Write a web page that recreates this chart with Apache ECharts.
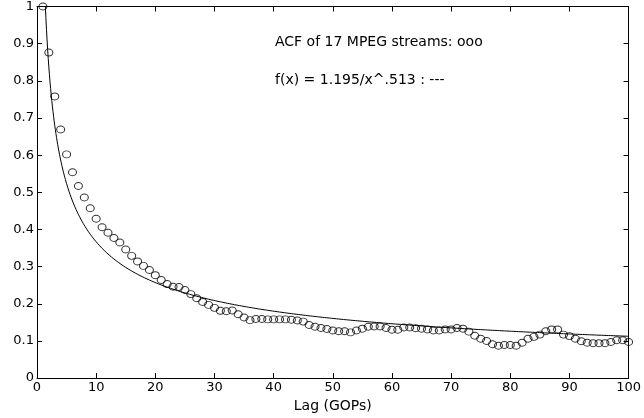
<!DOCTYPE html>
<html>
<head>
<meta charset="utf-8">
<style>
  html, body { margin: 0; padding: 0; background: #fff; }
  #chart { width: 644px; height: 418px; }
</style>
<script src="https://cdn.jsdelivr.net/npm/echarts@6/dist/echarts.min.js"></script>
</head>
<body>
<div id="chart"></div>
<script>
// Lags (in GOPs) at which the autocorrelation was estimated
const lags = [];
for (let k = 1; k <= 100; k++) lags.push(k);

// Autocorrelation of 17 MPEG streams, lag 1..100
const acf = [
  1.000, 0.876, 0.758, 0.669, 0.602, 0.554, 0.517, 0.486, 0.457, 0.429,
  0.406, 0.391, 0.377, 0.365, 0.346, 0.329, 0.314, 0.302, 0.291, 0.277,
  0.264, 0.253, 0.246, 0.245, 0.237, 0.226, 0.215, 0.205, 0.197, 0.189,
  0.181, 0.180, 0.182, 0.172, 0.163, 0.156, 0.159, 0.159, 0.158, 0.158,
  0.158, 0.158, 0.157, 0.155, 0.152, 0.143, 0.138, 0.135, 0.132, 0.128,
  0.126, 0.126, 0.123, 0.128, 0.133, 0.138, 0.139, 0.139, 0.135, 0.130,
  0.130, 0.136, 0.136, 0.134, 0.133, 0.131, 0.128, 0.128, 0.131, 0.131,
  0.135, 0.133, 0.125, 0.114, 0.106, 0.100, 0.091, 0.087, 0.089, 0.089,
  0.087, 0.095, 0.106, 0.111, 0.117, 0.126, 0.131, 0.131, 0.117, 0.113,
  0.106, 0.099, 0.095, 0.094, 0.094, 0.094, 0.097, 0.102, 0.102, 0.097
];

// Power-law fit f(x) = A / x^B
const FIT_A = 1.195;
const FIT_B = 0.513;

// Axis ticks
const xTicks = [0, 10, 20, 30, 40, 50, 60, 70, 80, 90, 100];
const yTicks = [0, 0.1, 0.2, 0.3, 0.4, 0.5, 0.6, 0.7, 0.8, 0.9, 1];

const acfPoints = lags.map((k, i) => [k, acf[i]]);
const fitPoints = [];
for (let x = 1; x <= 100.0001; x += 0.1) {
  fitPoints.push([x, FIT_A / Math.pow(x, FIT_B)]);
}

const FONT = '"DejaVu Sans", "Liberation Sans", Arial, sans-serif';
const labelStyle = { color: '#000', fontFamily: FONT, fontSize: 13 };
const lineStyle = { color: '#000', width: 1 };

function xAxisDef(pos, showLabels) {
  return {
    type: 'value', position: pos, min: xTicks[0], max: xTicks[xTicks.length - 1],
    interval: xTicks[1] - xTicks[0],
    axisLine: { show: true, onZero: false, lineStyle },
    axisTick: { show: true, inside: true, length: 5, lineStyle },
    axisLabel: Object.assign({ show: showLabels, margin: 3 }, labelStyle),
    splitLine: { show: false },
    name: showLabels ? 'Lag (GOPs)' : '',
    nameLocation: 'middle', nameGap: 14,
    nameTextStyle: { color: '#000', fontFamily: FONT, fontSize: 14 }
  };
}
function yAxisDef(pos, showLabels) {
  return {
    type: 'value', position: pos, min: yTicks[0], max: yTicks[yTicks.length - 1],
    interval: 0.1,
    axisLine: { show: true, onZero: false, lineStyle },
    axisTick: { show: true, inside: true, length: 5, lineStyle },
    axisLabel: Object.assign({ show: showLabels, margin: 3,
      formatter: v => String(+v.toFixed(1)) }, labelStyle),
    splitLine: { show: false }
  };
}

const chart = echarts.init(document.getElementById('chart'), null, { renderer: 'canvas' });
chart.setOption({
  animation: false,
  backgroundColor: '#fff',
  grid: { left: 37, right: 11, top: 6, bottom: 36, containLabel: false },
  xAxis: [xAxisDef('bottom', true), xAxisDef('top', false)],
  yAxis: [yAxisDef('left', true), yAxisDef('right', false)],
  series: [
    {
      type: 'line', xAxisIndex: 0, yAxisIndex: 0,
      data: fitPoints, showSymbol: false, clip: true,
      lineStyle: { color: '#000', width: 1 }, z: 2
    },
    {
      type: 'scatter', xAxisIndex: 0, yAxisIndex: 0,
      data: acfPoints, symbol: 'circle', symbolSize: [8, 7], clip: false,
      itemStyle: { color: 'rgba(0,0,0,0)', borderColor: '#000', borderWidth: 1 }, z: 3
    }
  ],
  graphic: [
    { type: 'text', left: 275, top: 35,
      style: { text: 'ACF of 17 MPEG streams: ooo', fill: '#000', font: '14px ' + FONT } },
    { type: 'text', left: 275, top: 73,
      style: { text: 'f(x) = 1.195/x^.513 : ---', fill: '#000', font: '14px ' + FONT } }
  ]
});
</script>
</body>
</html>
